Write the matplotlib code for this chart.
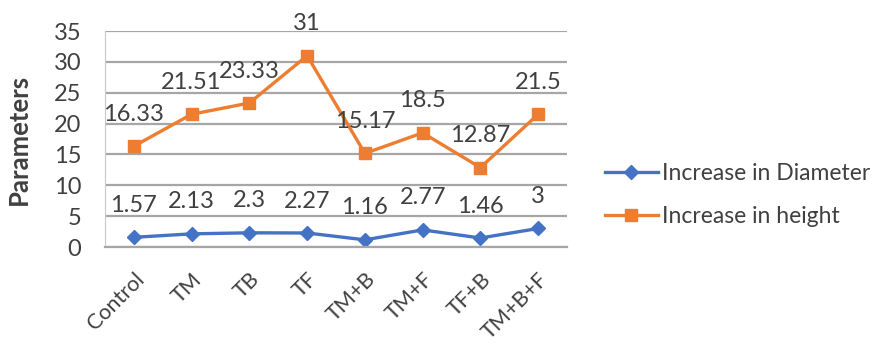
import matplotlib.pyplot as plt
import numpy as np

plt.rcParams['font.family'] = ['Lato', 'DejaVu Sans']

treatments = ["Control", "TM", "TB", "TF", "TM+B", "TM+F", "TF+B", "TM+B+F"]
diameter = [1.57, 2.13, 2.3, 2.27, 1.16, 2.77, 1.46, 3]
height = [16.33, 21.51, 23.33, 31, 15.17, 18.5, 12.87, 21.5]
diameter_txt = ["1.57", "2.13", "2.3", "2.27", "1.16", "2.77", "1.46", "3"]
height_txt = ["16.33", "21.51", "23.33", "31", "15.17", "18.5", "12.87", "21.5"]

blue = "#4472C4"
orange = "#ED7D31"
txt = "#404040"

fig = plt.figure(figsize=(8.81, 3.45), dpi=100)
ax = fig.add_axes([105/881, 1-247/345, 462/881, 216/345])

x = np.arange(len(treatments))
ax.plot(x, diameter, color=blue, lw=2.4, marker="D", ms=7, label="Increase in Diameter")
ax.plot(x, height, color=orange, lw=2.4, marker="s", ms=9, label="Increase in height")

# value labels above every point
for i in x:
    ax.annotate(diameter_txt[i], (i, diameter[i]), xytext=(0, 23), textcoords="offset points",
                ha="center", va="center", fontsize=17, color=txt)
    ax.annotate(height_txt[i], (i, height[i]), xytext=(0, 23), textcoords="offset points",
                ha="center", va="center", fontsize=17, color=txt)

ax.set_xlim(-0.5, len(treatments) - 0.5)
ax.set_ylim(0, 35)
ax.set_yticks(range(0, 36, 5))
ax.yaxis.grid(True, color="#a6a6a6", lw=1.6)
ax.set_axisbelow(True)
for s in ["top", "right"]:
    ax.spines[s].set_visible(False)
ax.spines["left"].set_color("#c8c8c8")
ax.spines["bottom"].set_color("#a6a6a6")
ax.spines["bottom"].set_linewidth(1.6)
ax.tick_params(length=0, colors=txt)
ax.tick_params(axis="y", labelsize=17, pad=17)
ax.tick_params(axis="x", labelsize=15.5, pad=16)
ax.set_xticks(x)
ax.set_xticklabels(treatments, rotation=45, ha="right", rotation_mode="anchor")
ax.set_ylabel("Parameters", fontsize=18.5, fontweight="bold", color=txt)
ax.yaxis.set_label_coords(-74/462, 0.5)

fig.legend(loc="center left", bbox_to_anchor=(605/881, 1-195/345), frameon=False,
           fontsize=16.5, handlelength=2.3, handletextpad=0.2, labelspacing=1.0,
           borderpad=0, borderaxespad=0, labelcolor=txt)

fig.savefig("out.png", dpi=100)
